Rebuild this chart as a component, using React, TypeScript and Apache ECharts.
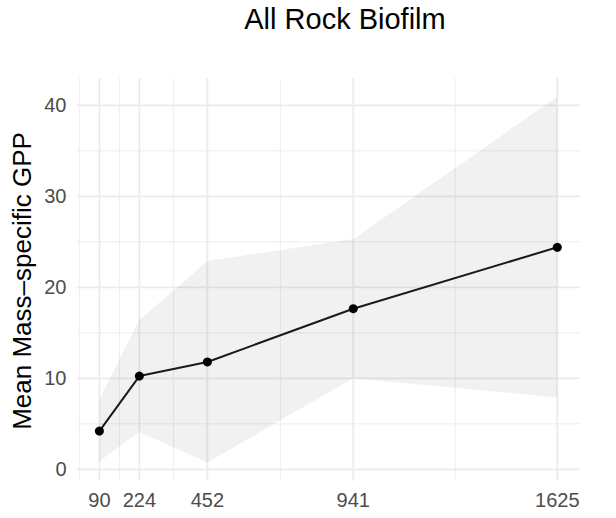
import React, { useEffect, useRef } from "react";
import * as echarts from "echarts";

const xValues = [90, 224, 452, 941, 1625];
const gppMean = [4.2, 10.25, 11.8, 17.65, 24.4];
const ribbonLower = [0.9, 4.1, 0.76, 10.0, 7.9];
const ribbonUpper = [7.7, 16.4, 22.9, 25.3, 40.96];
const xMinor = [23, 157, 338, 696.5, 1283];
const yMajor = [0, 10, 20, 30, 40];
const yMinor = [5, 15, 25, 35];
const titleText = "All Rock Biofilm";
const yTitle = "Mean Mass\u2013specific GPP";

const FONT = '"Liberation Sans", Arial, Helvetica, sans-serif';
const X_MIN = 13.25;
const X_MAX = 1701.75;
const Y_MIN = -1.25;
const Y_MAX = 42.97;

export default function App() {
  const ref = useRef<HTMLDivElement>(null);
  useEffect(() => {
    if (!ref.current) return;
    const chart = echarts.init(ref.current, undefined, { renderer: "svg" });
    chart.setOption({
      animation: false,
      grid: { left: 76.5, right: 35.8, top: 78.3, bottom: 37.3, containLabel: false },
      graphic: [
        {
          type: "text",
          x: 345,
          y: 19,
          style: {
            text: titleText,
            font: `29px ${FONT}`,
            fill: "#000",
            align: "center",
            verticalAlign: "middle",
          },
        },
        {
          type: "text",
          x: 22,
          y: 281,
          rotation: Math.PI / 2,
          style: {
            text: yTitle,
            font: `26px ${FONT}`,
            fill: "#000",
            align: "center",
            verticalAlign: "middle",
          },
        },
      ],
      xAxis: {
        type: "value",
        min: X_MIN,
        max: X_MAX,
        axisLine: { show: false },
        axisTick: { show: false },
        splitLine: { show: false },
        axisLabel: {
          customValues: xValues,
          formatter: (v: number) => String(v),
          color: "#4d4d4d",
          fontSize: 20,
          fontFamily: FONT,
          margin: 9,
          showMinLabel: true,
          showMaxLabel: true,
        },
      },
      yAxis: {
        type: "value",
        min: Y_MIN,
        max: Y_MAX,
        axisLine: { show: false },
        axisTick: { show: false },
        splitLine: { show: false },
        axisLabel: {
          customValues: yMajor,
          formatter: (v: number) => String(v),
          color: "#4d4d4d",
          fontSize: 20,
          fontFamily: FONT,
          margin: 10,
        },
      },
      series: [
        {
          type: "custom",
          z: 0,
          silent: true,
          data: [[X_MIN, Y_MIN]],
          renderItem: (params: any, api: any) => {
            const children: any[] = [];
            const vline = (v: number, w: number) => {
              const a = api.coord([v, Y_MIN]);
              const b = api.coord([v, Y_MAX]);
              children.push({
                type: "line",
                shape: { x1: a[0], y1: a[1], x2: b[0], y2: b[1] },
                style: { stroke: "#ebebeb", lineWidth: w },
              });
            };
            const hline = (v: number, w: number) => {
              const a = api.coord([X_MIN, v]);
              const b = api.coord([X_MAX, v]);
              children.push({
                type: "line",
                shape: { x1: a[0], y1: a[1], x2: b[0], y2: b[1] },
                style: { stroke: "#ebebeb", lineWidth: w },
              });
            };
            xMinor.forEach((v) => vline(v, 0.9));
            yMinor.forEach((v) => hline(v, 0.9));
            xValues.forEach((v) => vline(v, 1.8));
            yMajor.forEach((v) => hline(v, 1.8));
            return { type: "group", children };
          },
        },
        {
          type: "custom",
          z: 1,
          silent: true,
          data: xValues.map((x, i) => [x, ribbonLower[i], ribbonUpper[i]]),
          renderItem: (params: any, api: any) => {
            if (params.dataIndex !== 0) return null;
            const top = xValues.map((x, i) => api.coord([x, ribbonUpper[i]]));
            const bottom = xValues
              .map((x, i) => api.coord([x, ribbonLower[i]]))
              .reverse();
            return {
              type: "polygon",
              shape: { points: [...top, ...bottom] },
              style: { fill: "rgba(0,0,0,0.055)" },
            };
          },
        },
        {
          type: "line",
          z: 2,
          data: xValues.map((x, i) => [x, gppMean[i]]),
          symbol: "circle",
          symbolSize: 9,
          lineStyle: { color: "#1a1a1a", width: 2 },
          itemStyle: { color: "#000" },
        },
      ],
    });
    return () => chart.dispose();
  }, []);
  return (
    <div
      ref={ref}
      style={{ position: "fixed", left: 0, top: 0, width: 616, height: 518, background: "#fff" }}
    />
  );
}
